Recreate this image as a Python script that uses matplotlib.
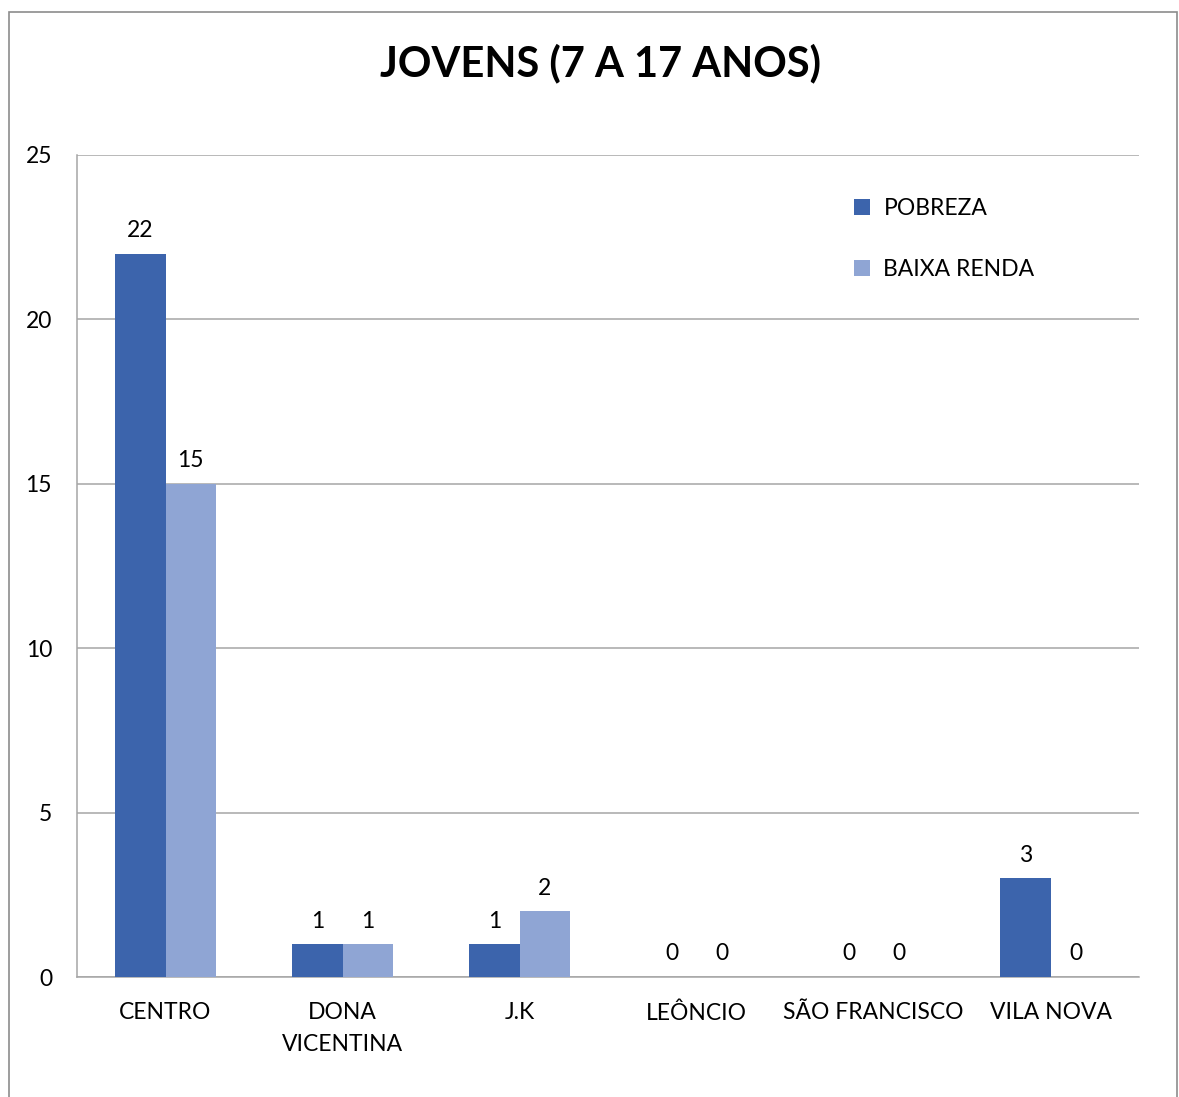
import matplotlib
matplotlib.use("Agg")
import matplotlib.pyplot as plt
import numpy as np
from matplotlib.patches import Rectangle

categories = ["CENTRO", "DONA\nVICENTINA", "J.K", "LEÔNCIO", "SÃO FRANCISCO", "VILA NOVA"]
pobreza = [22, 1, 1, 0, 0, 3]
baixa_renda = [15, 1, 2, 0, 0, 0]
series_names = ["POBREZA", "BAIXA RENDA"]
yticks = [0, 5, 10, 15, 20, 25]
title = "JOVENS (7 A 17 ANOS)"

c1 = "#3C64AC"
c2 = "#8FA5D4"
font = ["Lato", "DejaVu Sans"]
plt.rcParams["font.family"] = font
fs = 16.5

fig = plt.figure(figsize=(11.79, 10.97), dpi=100)
fig.patches.append(Rectangle((9/1179, -0.01), (1177-9)/1179, 1 - 12/1097 + 0.01,
                             transform=fig.transFigure, fill=False,
                             edgecolor="#8c8c8c", linewidth=1.2))
ax = fig.add_axes([77/1179, 1-977/1097, (1139-77)/1179, (977-155)/1097])

x = np.arange(len(categories))
w = 0.283
b1 = ax.bar(x - w/2, pobreza, w, color=c1, label=series_names[0], linewidth=0, zorder=3)
b2 = ax.bar(x + w/2, baixa_renda, w, color=c2, label=series_names[1], linewidth=0, zorder=3)
ax.bar_label(b1, padding=9, fontsize=fs)
ax.bar_label(b2, padding=9, fontsize=fs)

ax.set_xlim(-0.5, len(categories) - 0.5)
ax.set_ylim(0, 25)
ax.set_yticks(yticks)
ax.set_xticks(x)
ax.set_xticklabels(categories, fontsize=fs, linespacing=1.65, va="top")
ax.tick_params(axis="y", labelsize=fs, length=0, pad=18)
ax.tick_params(axis="x", length=0, pad=18)
ax.grid(axis="y", color="#a6a6a6", linewidth=1.1, zorder=0)
for s in ["top", "right"]:
    ax.spines[s].set_visible(False)
ax.spines["left"].set_color("#a6a6a6")
ax.spines["bottom"].set_color("#a6a6a6")
ax.spines["left"].set_linewidth(1.1)
ax.spines["bottom"].set_linewidth(1.1)

fig.text(600/1179, 1 - 63/1097, title, ha="center", va="center", fontsize=30, fontweight="bold")

leg = ax.legend(loc="upper left", bbox_to_anchor=((833-77)/1062, (977-177)/822),
                frameon=False, fontsize=fs, handlelength=0.7, handleheight=0.7,
                labelspacing=1.75, handletextpad=0.6)

fig.savefig("out.png", dpi=100)
